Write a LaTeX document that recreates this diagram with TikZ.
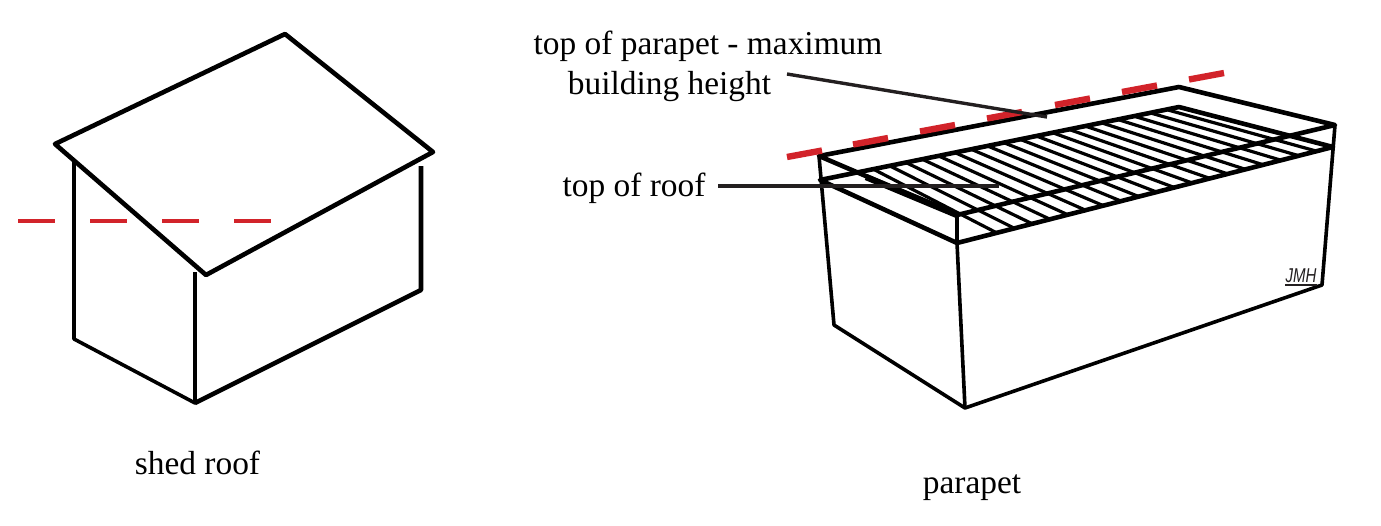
\documentclass[tikz,border=0pt]{standalone}
\usepackage{fontspec}
\setmainfont{Liberation Serif}
\newfontfamily\sigfont{Liberation Sans}
\usetikzlibrary{calc}
\definecolor{redline}{HTML}{D2232A}
\definecolor{leaderink}{HTML}{231F20}
\tikzset{
  x=1pt,y=-1pt,
  label/.style={font=\fontsize{33.4}{40}\selectfont,anchor=base,inner sep=0pt,text=black},
  heavy/.style={line width=4.6pt,black,line join=round},
  medium/.style={line width=3.6pt,black,line join=round},
  hatchline/.style={line width=3.2pt,black},
  leader/.style={line width=3.4pt,leaderink},
  reddash/.style={line width=6.4pt,redline},
  reddashthin/.style={line width=4.4pt,redline},
}
\begin{document}
\begin{tikzpicture}
\useasboundingbox (0,0) rectangle (1381,525);

% --- shed roof ---
\coordinate (sa) at (55,144);
\coordinate (sb) at (285,34);
\coordinate (sc) at (433,152);
\coordinate (sd) at (206,275);
\coordinate (sl) at (74,162);
\coordinate (sll) at (74,339);
\coordinate (sf) at (195,272);
\coordinate (sfl) at (195,403);
\coordinate (sr) at (421,166);
\coordinate (srl) at (421,290);
\draw[medium] (sl) -- (sll) -- (sfl) -- (sf);
\draw[heavy] (sfl) -- (srl) -- (sr);
\draw[heavy] (sa) -- (sb) -- (sc) -- (sd) -- cycle;
\foreach \xa in {18,90,162,234}
  \draw[reddashthin] (\xa,221) -- ++(37,0);

% --- parapet walls ---
\coordinate (pa) at (819,156);
\coordinate (pb) at (1179,87);
\coordinate (pc) at (1335,125);
\coordinate (pd) at (957,215);
\coordinate (ra) at (820,180);
\coordinate (rb) at (1179,107);
\coordinate (rc) at (1333,147);
\coordinate (rd) at (957,243);
\coordinate (wl) at (834,325);
\coordinate (wf) at (965,408);
\coordinate (wr) at (1322,285);

% hatching
\coordinate (hs1) at (873,169);
\coordinate (hs2) at (1168,110);
\coordinate (he1) at (997,233);
\coordinate (he2) at (1316,151);
\foreach \i in {0,...,18}
  \draw[hatchline] ($(hs1)!\i/18!(hs2)$) -- ($(he1)!\i/18!(he2)$);

\draw[medium] (pa) -- (wl) -- (wf) -- (wr) -- (pc);
\draw[medium] (pd) -- (rd) -- (wf);
\draw[heavy] (pa) -- (pb) -- (pc) -- (pd) -- cycle;
\draw[heavy] (ra) -- (rb) -- (rc) -- (rd) -- cycle;
\coordinate (pthick) at (866,177);
\draw[line width=6.4pt,black] (pthick) -- (pd);

% red dashed line
\foreach \xa/\ya in {787/157,853/144.5,920/131.5,987/118.5,1055/105,1122/92,1189/79.5}
  \draw[reddash] (\xa,\ya) -- ++(35,-6.5);

% --- labels ---
\node[label] (t1) at (708,54) {top of parapet - maximum};
\node[label] (t2) at (669.5,94) {building height};
\node[label] (t3) at (634,196) {top of roof};
\node[label] (t4) at (197.5,474) {shed roof};
\node[label] (t5) at (972,493) {parapet};

\coordinate (l1a) at (787,74);
\coordinate (l1b) at (1047,117);
\coordinate (l2a) at (718,186);
\coordinate (l2b) at (999,186);
\draw[leader] (l1a) -- (l1b);
\draw[leader,line width=4pt] (l2a) -- (l2b);

% signature
\node[font=\sigfont\itshape\fontsize{20}{20}\selectfont,inner sep=0pt,anchor=base,xscale=.75,text=leaderink] (sig) at (1301,282) {JMH};
\coordinate (siga) at (1285,285);
\coordinate (sigb) at (1317,285);
\draw[leaderink,line width=1.8pt] (siga) -- (sigb);
\end{tikzpicture}
\end{document}
